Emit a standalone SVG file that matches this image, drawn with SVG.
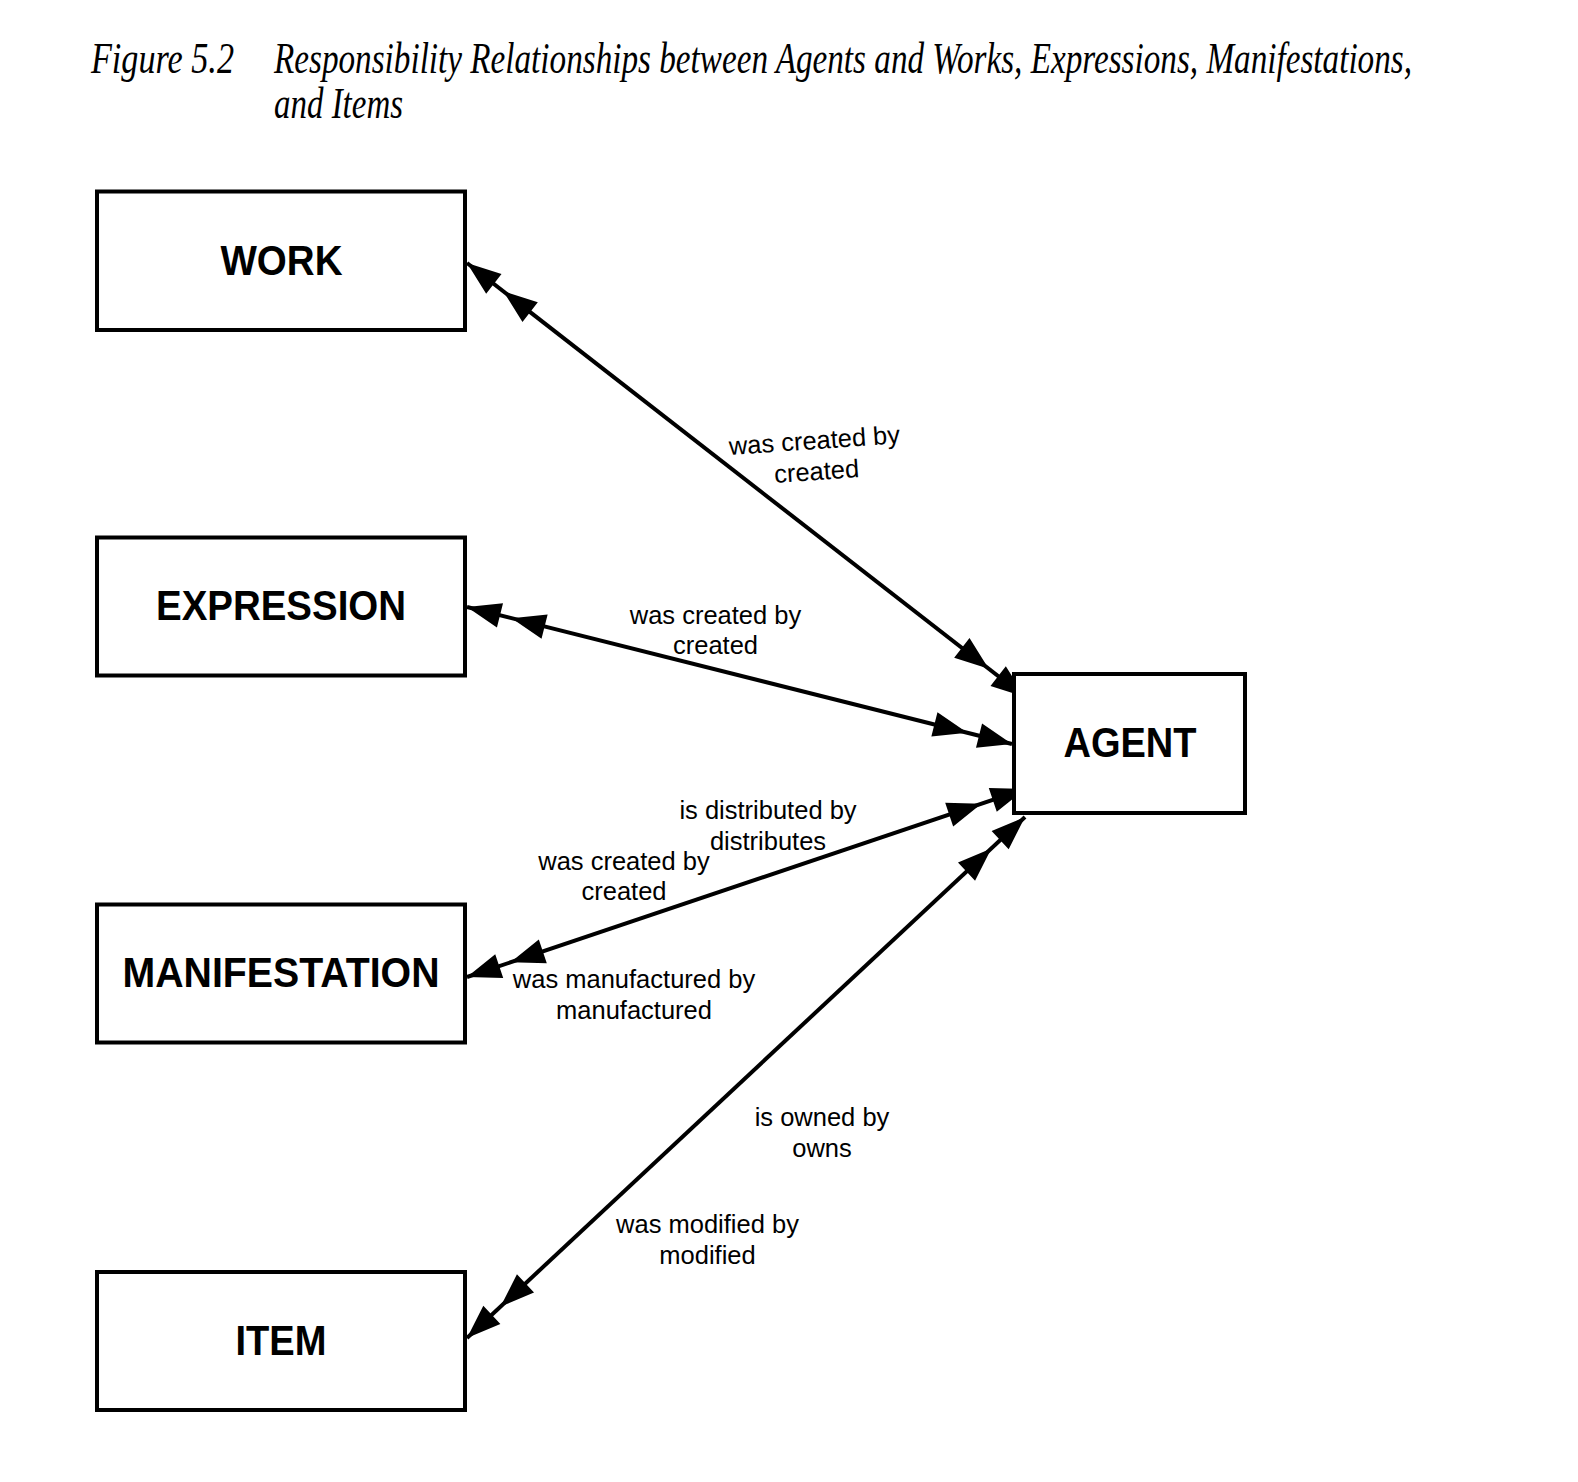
<svg xmlns="http://www.w3.org/2000/svg" width="1578" height="1482" viewBox="0 0 1578 1482">
<style>
.box{fill:#fff;stroke:#000;stroke-width:4}
.nl{font-family:"Liberation Sans",Arial,sans-serif;font-weight:bold;font-size:43px;text-anchor:middle;fill:#000}
.lb{font-family:"Liberation Sans",Arial,sans-serif;font-size:25.5px;text-anchor:middle;fill:#000}
.tt{font-family:"Liberation Serif","Times New Roman",serif;font-style:italic;font-size:44px;fill:#000}
.cn{fill:none;stroke:#000;stroke-width:4;marker-start:url(#dbl);marker-end:url(#dbl)}
</style>
<defs>
<marker id="dbl" markerUnits="userSpaceOnUse" orient="auto-start-reverse" refX="0" refY="0" markerWidth="90" markerHeight="30" overflow="visible" viewBox="-85 -15 90 30">
<path d="M0,0 L-34,-12.5 L-34,12.5 Z M-46,0 L-80,-12.5 L-80,12.5 Z" fill="#000"/>
</marker>
</defs>
<rect width="1578" height="1482" fill="#fff"/>
<g id="title">
<text class="tt" transform="translate(91 73) scale(0.8 1)" x="0" y="0" textLength="178.75" lengthAdjust="spacingAndGlyphs">Figure 5.2</text>
<text class="tt" transform="translate(274 73) scale(0.8 1)" x="0" y="0" textLength="1422.5" lengthAdjust="spacingAndGlyphs">Responsibility Relationships between Agents and Works, Expressions, Manifestations,</text>
<text class="tt" transform="translate(274 118) scale(0.8 1)" x="0" y="0" textLength="161.25" lengthAdjust="spacingAndGlyphs">and Items</text>
</g>
<g id="connectors">
<path class="cn" d="M467,263 L1025,697"/>
<path class="cn" d="M467,607 L1012,744"/>
<path class="cn" d="M467,977 L1025,789"/>
<path class="cn" d="M467,1338 L1025,817"/>
</g>
<g id="work">
<rect class="box" x="97" y="191.5" width="368" height="138.5"/>
<text class="nl" x="281.5" y="274.5" textLength="122" lengthAdjust="spacingAndGlyphs">WORK</text>
</g>
<g id="expression">
<rect class="box" x="97" y="537.5" width="368" height="138"/>
<text class="nl" x="281" y="620" textLength="250" lengthAdjust="spacingAndGlyphs">EXPRESSION</text>
</g>
<g id="manifestation">
<rect class="box" x="97" y="904.5" width="368" height="138"/>
<text class="nl" x="281" y="987" textLength="317" lengthAdjust="spacingAndGlyphs">MANIFESTATION</text>
</g>
<g id="item">
<rect class="box" x="97" y="1272" width="368" height="138"/>
<text class="nl" x="281" y="1354.5" textLength="91" lengthAdjust="spacingAndGlyphs">ITEM</text>
</g>
<g id="agent">
<rect class="box" x="1014" y="674" width="231" height="139"/>
<text class="nl" x="1130" y="756.5" textLength="133" lengthAdjust="spacingAndGlyphs">AGENT</text>
</g>
<g id="labels">
<g transform="rotate(-4 816 464)">
<text class="lb" x="816" y="449">was created by</text>
<text class="lb" x="816" y="480">created</text>
</g>
<text class="lb" x="715.5" y="624">was created by</text>
<text class="lb" x="715.5" y="654">created</text>
<text class="lb" x="768" y="819">is distributed by</text>
<text class="lb" x="768" y="850">distributes</text>
<text class="lb" x="624" y="869.5">was created by</text>
<text class="lb" x="624" y="900">created</text>
<text class="lb" x="634" y="988">was manufactured by</text>
<text class="lb" x="634" y="1019">manufactured</text>
<text class="lb" x="822" y="1126">is owned by</text>
<text class="lb" x="822" y="1157">owns</text>
<text class="lb" x="707.5" y="1233">was modified by</text>
<text class="lb" x="707.5" y="1264">modified</text>
</g>
</svg>
